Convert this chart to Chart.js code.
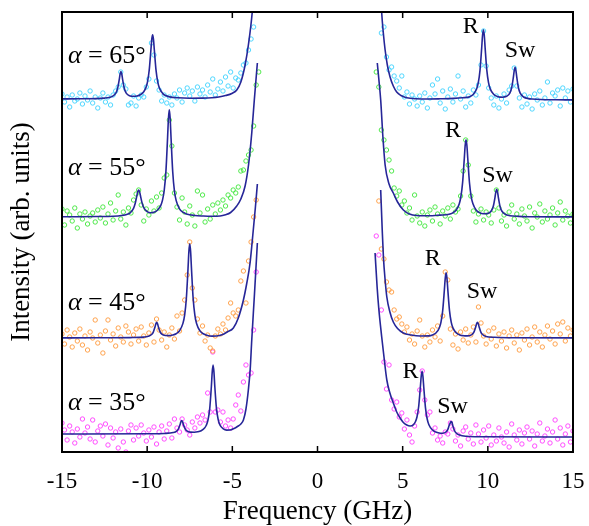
<!DOCTYPE html>
<html><head><meta charset="utf-8">
<script src="https://cdn.jsdelivr.net/npm/chart.js@4.4.0/dist/chart.umd.min.js"></script>
<style>html,body{margin:0;padding:0;background:#fff}#wrap{width:589px;height:526px}</style>
</head><body><div id="wrap"><canvas id="c" width="589" height="526"></canvas></div>
<script>
// ---- categories / tick grid (GHz) ----
const freqLeft = [-15,-14.85,-14.7,-14.55,-14.4,-14.25,-14.1,-13.95,-13.8,-13.65,-13.5,-13.35,-13.2,-13.05,-12.9,-12.75,-12.6,-12.45,-12.3,-12.15,-12,-11.85,-11.7,-11.55,-11.4,-11.25,-11.1,-10.95,-10.8,-10.65,-10.5,-10.35,-10.2,-10.05,-9.9,-9.75,-9.6,-9.45,-9.3,-9.15,-9,-8.85,-8.7,-8.55,-8.4,-8.25,-8.1,-7.95,-7.8,-7.65,-7.5,-7.35,-7.2,-7.05,-6.9,-6.75,-6.6,-6.45,-6.3,-6.15,-6,-5.85,-5.7,-5.55,-5.4,-5.25,-5.1,-4.95,-4.8,-4.65,-4.5,-4.35,-4.2,-4.05,-3.9,-3.75,-3.6,-3.45];
const freqRight = [3.45,3.6,3.75,3.9,4.05,4.2,4.35,4.5,4.65,4.8,4.95,5.1,5.25,5.4,5.55,5.7,5.85,6,6.15,6.3,6.45,6.6,6.75,6.9,7.05,7.2,7.35,7.5,7.65,7.8,7.95,8.1,8.25,8.4,8.55,8.7,8.85,9,9.15,9.3,9.45,9.6,9.75,9.9,10.05,10.2,10.35,10.5,10.65,10.8,10.95,11.1,11.25,11.4,11.55,11.7,11.85,12,12.15,12.3,12.45,12.6,12.75,12.9,13.05,13.2,13.35,13.5,13.65,13.8,13.95,14.1,14.25,14.4,14.55,14.7,14.85,15];
const xTicks = [-15,-10,-5,0,5,10,15];
const angles = [65,55,45,35];
// vertical offsets of each spectrum (arb. units)
const offsetsLeft  = [353,235,114,18];
const offsetsRight = [352,235,114,15];

// ---- measured intensities (arb. units, above each spectrum's baseline) ----
const data65L = [5,-3,2,-8,4,-2,0,6,-5,3,-1,8,-4,
2,-9,1,6,-3,2,-6,4,8,12,27,14,10,
-6,-4,3,-7,1,4,2,12,20,56,44,18,9,
-2,4,-4,2,-6,5,1,9,-3,6,11,3,8,
-2,12,5,9,2,14,7,20,4,10,17,8,22,
13,27,11,21,19,26,34,36,49,60,72,null,null];
const data65R = [null,null,67,73,43,30,33,24,19,12,24,3,8,
-4,5,1,-6,4,-2,7,-8,2,15,6,21,-3,
9,-9,3,11,-2,6,24,1,9,-7,4,-3,10,
5,15,35,69,34,12,2,-5,4,-8,1,6,-3,
10,14,32,14,2,-7,5,-4,3,-9,6,0,9,
-5,2,18,-3,7,4,10,-6,12,2,9,-2,11];
const data55L = [8,-8,6,2,-4,9,-11,3,-2,5,-7,1,4,
-5,7,-1,10,-6,3,14,-3,6,22,-2,5,-8,
9,4,17,23,27,12,-4,8,2,16,6,20,9,
24,39,42,97,71,24,10,-3,19,5,-7,11,2,
-9,26,4,22,-5,8,-2,12,3,14,7,17,11,
22,19,27,24,30,46,47,56,62,67,91,132,145];
const data55R = [145,130,87,77,67,57,46,29,21,26,12,16,4,
9,-3,22,1,-6,5,-9,2,7,-4,10,3,-7,
6,1,9,-2,12,5,8,21,46,77,52,21,6,
-5,3,8,-3,5,2,-6,7,27,9,-4,2,-9,
5,12,-2,3,-7,8,1,-4,10,-11,4,0,13,
-5,6,-2,2,9,-8,4,15,-3,6,1,-6,3];
const data45L = [4,-6,8,1,-9,5,-3,9,-7,2,-12,6,0,
18,-5,3,-15,7,18,-2,4,-8,10,1,-4,12,
6,-6,3,9,-3,11,2,-7,5,13,-4,19,8,
-2,6,-9,3,10,-1,22,7,25,38,63,96,50,
38,19,5,12,-3,3,-10,-13,2,9,4,14,8,
20,35,25,22,28,57,67,35,77,96,121,138,null];
const data45R = [null,137,89,79,56,48,46,28,19,21,14,6,11,
-2,4,-6,7,18,2,-9,3,-4,8,1,12,-3,
22,66,58,9,-7,4,-11,6,-2,9,-5,3,11,
-4,31,15,2,-6,7,-1,10,-8,4,-3,6,-10,
2,8,-5,3,-12,5,-2,9,-7,1,11,-4,6,
-9,3,12,-1,7,-6,14,4,16,-3,10,2,8];
const data35L = [11,4,-6,8,2,-9,5,-3,15,1,7,-5,14,
-8,3,8,-2,10,-11,6,-4,2,-14,5,-8,-18,
3,9,-6,6,-2,9,1,-7,4,-3,7,-10,2,
8,-5,3,10,-4,15,6,2,15,9,4,-1,12,
6,17,11,19,14,41,22,82,22,24,12,22,8,
14,6,15,29,39,23,52,69,59,61,104,162,null];
const data35R = [201,182,127,75,48,72,37,28,35,20,24,8,17,
2,-5,11,25,47,66,37,22,25,4,9,-3,1,
-6,5,3,14,8,-4,2,-9,6,10,-2,4,-7,
12,3,-5,7,-1,11,-8,2,-4,9,0,-6,5,
-10,13,2,-3,7,-7,4,10,-2,6,-9,3,14,
-4,1,8,-6,5,17,-2,9,-8,3,11,-5,6];

// ---- fitted curves: [frequency, intensity above baseline] ----
const fit65L = [[-15,0.1],[-14,0.2],[-13,0.4],[-12.5,0.9],[-12.24,1.5],[-12.04,2.6],[-11.84,5.9],[-11.74,10.2],[-11.64,19.3],[-11.59,24.9],[-11.54,27.4],[-11.49,25],[-11.44,19.4],[-11.34,10.5],[-11.24,6.2],[-11.04,3.3],[-10.8,2.7],[-10.6,3.0],[-10.4,4.2],[-10.2,7.3],[-10.08,11.1],[-9.98,17.2],[-9.88,28.8],[-9.78,49.2],[-9.73,59.6],[-9.68,64.2],[-9.63,59.6],[-9.58,49.2],[-9.48,28.8],[-9.38,17.1],[-9.28,10.9],[-9.08,5.4],[-8.88,3.2],[-8.68,2.1],[-8.2,1.2],[-7.5,0.8],[-6.8,0.9],[-6.2,1.3],[-5.8,2],[-5.4,3.4],[-5.0,5.8],[-4.74,9],[-4.5,17],[-4.25,34],[-4.05,55],[-3.83,87],[-3.65,130]];
const fit65R = [[3.65,130],[3.77,87],[3.87,66],[3.97,50],[4.1,35],[4.26,23],[4.45,14],[4.65,8],[4.9,4.5],[5.24,2.2],[5.8,1.2],[6.5,1],[7.2,1.2],[8.0,1.6],[8.5,2.2],[8.94,3.3],[9.14,5.5],[9.34,11],[9.44,17.3],[9.54,29.7],[9.64,52.3],[9.69,64.7],[9.74,70.3],[9.79,64.8],[9.84,52.4],[9.94,29.8],[10.04,17.3],[10.14,11.1],[10.34,5.7],[10.6,3.3],[10.85,2.8],[11.1,3.7],[11.3,7.2],[11.4,12.3],[11.5,22.9],[11.55,29.4],[11.6,32.6],[11.65,29.4],[11.7,22.8],[11.8,12.0],[11.9,6.9],[12.1,3.0],[12.4,1.4],[12.6,1.0],[13.1,0.5],[14,0.2],[15,0.1]];
const fit55L = [[-15,0.2],[-14,0.3],[-13,0.5],[-12,0.8],[-11.5,1.5],[-11.2,2.5],[-11,4.2],[-10.8,8.7],[-10.7,13.7],[-10.6,21.6],[-10.55,25.4],[-10.5,26.9],[-10.45,25.5],[-10.4,21.8],[-10.3,14.1],[-10.2,9.3],[-10,5.4],[-9.8,4.2],[-9.6,4.7],[-9.4,6.8],[-9.2,11.7],[-9.1,16.9],[-9,26.5],[-8.9,45.4],[-8.8,79.9],[-8.75,98.8],[-8.7,107.3],[-8.65,98.7],[-8.6,79.8],[-8.5,45.3],[-8.4,26.2],[-8.3,16.6],[-8.1,8.2],[-7.9,4.8],[-7.7,3.1],[-7.2,1.5],[-6.7,1.0],[-6.2,0.8],[-5.72,1],[-5.4,2.2],[-5.1,4.5],[-4.74,11],[-4.5,18],[-4.25,31],[-4.05,52],[-3.86,84],[-3.71,117],[-3.53,154]];
const fit55R = [[3.51,154],[3.6,138],[3.71,117],[3.84,80],[3.97,52],[4.2,33],[4.45,24],[4.7,15],[5.04,7],[5.4,3],[5.83,1.5],[6.5,1.2],[7.2,1.9],[7.72,2.7],[7.92,3.9],[8.12,6.5],[8.32,13.1],[8.42,20.5],[8.52,34.6],[8.62,58.9],[8.67,71.6],[8.72,77.1],[8.77,71.7],[8.82,59.0],[8.92,34.8],[9.02,20.7],[9.12,13.4],[9.32,6.8],[9.52,4.3],[9.74,3.3],[9.97,3.4],[10.12,4.6],[10.22,6.5],[10.32,10.7],[10.42,19.6],[10.47,25.2],[10.52,27.8],[10.57,25],[10.62,19.4],[10.72,10.3],[10.82,6],[11.02,2.7],[11.3,1.3],[11.8,0.6],[12.5,0.3],[15,0.1]];
const fit45L = [[-15,0.1],[-13,0.2],[-11,0.4],[-10.2,0.9],[-9.94,1.7],[-9.74,3.5],[-9.64,5.9],[-9.54,11],[-9.49,14.1],[-9.44,15.6],[-9.39,14.1],[-9.34,11.1],[-9.24,6.1],[-9.14,3.8],[-8.94,2.5],[-8.7,2.4],[-8.5,3.0],[-8.3,4.3],[-8.1,7.2],[-7.9,14.6],[-7.8,22.9],[-7.7,39.5],[-7.6,69.9],[-7.55,86.6],[-7.5,94.1],[-7.45,86.6],[-7.4,69.9],[-7.3,39.5],[-7.2,22.9],[-7.1,14.5],[-6.9,7.1],[-6.7,4.2],[-6.5,2.8],[-6.2,1.9],[-5.92,2.0],[-5.6,3.2],[-5.3,6],[-4.94,10],[-4.65,20],[-4.35,38],[-4.15,55],[-3.96,75],[-3.77,108],[-3.65,130],[-3.53,154]];
const fit45R = [[3.71,148],[3.8,108],[3.87,81],[3.97,58],[4.07,41],[4.25,26],[4.45,16],[4.7,9.5],[5.04,5],[5.5,3],[6.02,2.0],[6.55,2.1],[6.75,3.0],[6.95,5.0],[7.15,10],[7.25,15.9],[7.35,27.4],[7.45,48.4],[7.5,59.9],[7.55,65.1],[7.6,59.9],[7.65,48.4],[7.75,27.4],[7.85,15.9],[7.95,10.1],[8.15,5.1],[8.35,3.1],[8.57,2.3],[8.79,2.1],[8.99,2.8],[9.09,3.8],[9.19,6.1],[9.29,11.1],[9.34,14.2],[9.39,15.6],[9.44,14.1],[9.49,11],[9.59,5.9],[9.69,3.5],[9.89,1.6],[10.4,0.7],[11.5,0.2],[15,0.1]];
const fit35L = [[-15,0],[-10,0.2],[-9,0.5],[-8.47,1.4],[-8.27,2.9],[-8.17,5.0],[-8.07,9.4],[-8.02,12.1],[-7.97,13.4],[-7.92,12.1],[-7.87,9.4],[-7.77,5.1],[-7.67,3.1],[-7.47,1.9],[-7.23,1.8],[-7.03,2.2],[-6.83,3.3],[-6.63,5.9],[-6.53,8.7],[-6.43,13.8],[-6.33,24.8],[-6.23,47.8],[-6.18,62.1],[-6.13,69],[-6.08,62.1],[-6.03,47.8],[-5.93,25.3],[-5.83,14.3],[-5.73,9.1],[-5.53,5.1],[-5.33,3.9],[-5.13,4.0],[-4.9,5.5],[-4.7,7.5],[-4.5,10],[-4.35,14],[-4.2,25],[-4.06,44],[-3.95,65],[-3.86,94],[-3.7,140],[-3.53,191]];
const fit35R = [[3.38,184],[3.5,150],[3.6,128],[3.77,100],[3.87,85],[4.07,57],[4.25,44],[4.45,34],[4.65,25],[4.85,19],[5.04,14.5],[5.24,12],[5.44,11],[5.64,12.4],[5.74,15],[5.84,20],[5.94,30.5],[6.04,50.2],[6.09,61],[6.14,65.8],[6.19,60.6],[6.24,49.5],[6.34,29.2],[6.44,18],[6.54,12.2],[6.74,7.2],[6.94,5.0],[7.14,4.0],[7.34,3.8],[7.54,5.0],[7.64,7.2],[7.74,12],[7.79,13.8],[7.84,15.4],[7.89,14.8],[7.94,11.6],[8.04,6.5],[8.14,4],[8.34,2.0],[8.76,0.7],[9.5,0.2],[15,0]];

// ---- assembly ----
const leftData  = [data65L, data55L, data45L, data35L];
const rightData = [data65R, data55R, data45R, data35R];
const leftFits  = [fit65L, fit55L, fit45L, fit35L];
const rightFits = [fit65R, fit55R, fit45R, fit35R];
const pointColors = ['#3ed2ff', '#3ee63a', '#ff9a3c', '#ff3cff'];
const fitColor = '#262698';
const SERIF = '"Liberation Serif","Times New Roman",serif';

// text annotations, placed in data coordinates
const angleLabelX = -14.65;
const angleLabelY = [389, 277, 142, 42];
const rLabelX = [8.99, 7.96, 6.76, 5.46];
const rLabelY = [419, 315, 187, 74];
const swLabelX = [11.89, 10.57, 9.66, 7.93];
const swLabelY = [395, 270, 154, 39];

const datasets = [];
angles.forEach((a, i) => {
  [[leftFits[i], offsetsLeft[i]], [rightFits[i], offsetsRight[i]]].forEach(([fit, off]) => {
    datasets.push({
      type: 'line', data: fit.map(([f, v]) => ({x: f, y: off + v})),
      borderColor: fitColor, borderWidth: 1.6, pointRadius: 0, fill: false,
      cubicInterpolationMode: 'monotone', showLine: true, order: 0
    });
  });
});
angles.forEach((a, i) => {
  [[freqLeft, leftData[i], offsetsLeft[i]], [freqRight, rightData[i], offsetsRight[i]]].forEach(([fr, vals, off]) => {
    datasets.push({
      type: 'scatter', data: fr.map((f, k) => ({x: f, y: vals[k] == null ? null : off + vals[k]})),
      borderColor: pointColors[i], backgroundColor: 'rgba(0,0,0,0)',
      pointRadius: 2.2, pointBorderWidth: 0.9, pointStyle: 'circle', showLine: false, order: 1
    });
  });
});

const annot = {
  id: 'annot',
  afterDatasetsDraw(chart) {
    const {ctx, chartArea: ar, scales: {x, y}} = chart;
    ctx.save();
    ctx.strokeStyle = '#000';
    ctx.lineWidth = 1.5;
    xTicks.forEach(t => {
      const px = x.getPixelForValue(t);
      ctx.beginPath();
      ctx.moveTo(px, ar.bottom); ctx.lineTo(px, ar.bottom - 6);
      ctx.moveTo(px, ar.top); ctx.lineTo(px, ar.top + 6);
      ctx.stroke();
    });
    ctx.lineWidth = 2;
    ctx.strokeRect(ar.left, ar.top, ar.right - ar.left, ar.bottom - ar.top);
    ctx.fillStyle = '#000';
    ctx.textBaseline = 'alphabetic';
    ctx.textAlign = 'left';
    angles.forEach((a, i) => {
      const px = x.getPixelForValue(angleLabelX), py = y.getPixelForValue(angleLabelY[i]);
      ctx.font = 'italic 26px ' + SERIF;
      ctx.fillText('α', px, py);
      const w = ctx.measureText('α').width;
      ctx.font = '26px ' + SERIF;
      ctx.fillText(' = ' + a + '°', px + w, py);
    });
    ctx.textAlign = 'center';
    ctx.font = '24px ' + SERIF;
    angles.forEach((a, i) => {
      ctx.fillText('R', x.getPixelForValue(rLabelX[i]), y.getPixelForValue(rLabelY[i]));
      ctx.fillText('Sw', x.getPixelForValue(swLabelX[i]), y.getPixelForValue(swLabelY[i]));
    });
    ctx.restore();
  }
};

new Chart(document.getElementById('c'), {
  type: 'scatter',
  data: {datasets},
  options: {
    responsive: false, animation: false, devicePixelRatio: 1,
    layout: {padding: {top: 12, right: 16, left: 0, bottom: 0}},
    plugins: {legend: {display: false}, tooltip: {enabled: false}},
    scales: {
      x: {
        type: 'linear', min: -15, max: 15,
        grid: {display: false, drawTicks: false}, border: {display: false},
        afterBuildTicks: s => { s.ticks = xTicks.map(v => ({value: v})); },
        ticks: {color: '#000', padding: 16, maxRotation: 0, autoSkip: false,
          font: {family: SERIF, size: 23}},
        title: {display: true, text: 'Frequency (GHz)', color: '#000',
          font: {family: SERIF, size: 27, lineHeight: 1}, padding: {top: 0, bottom: 1}},
        afterFit: s => { s.height = 74; s.paddingLeft = 0; s.paddingRight = 0; }
      },
      y: {
        type: 'linear', min: 0, max: 440,
        grid: {display: false, drawTicks: false}, border: {display: false},
        ticks: {display: false},
        title: {display: true, text: 'Intensity (arb. units)', color: '#000',
          font: {family: SERIF, size: 27, lineHeight: 1}, padding: {top: 8, bottom: 0}},
        afterFit: s => { s.width = 62; s.paddingTop = 0; s.paddingBottom = 0; }
      }
    }
  },
  plugins: [annot]
});
</script>
</body></html>
